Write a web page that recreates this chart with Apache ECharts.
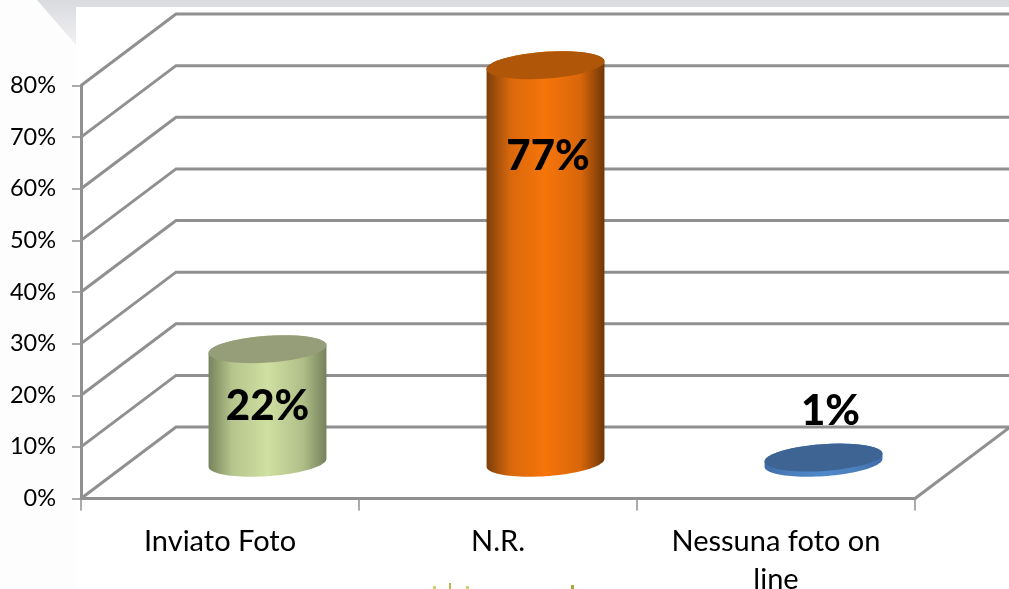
<!DOCTYPE html>
<html>
<head>
<meta charset="utf-8">
<style>
  html, body { margin: 0; padding: 0; background: #fff; }
  #chart { width: 1009px; height: 589px; }
</style>
<script src="https://cdn.jsdelivr.net/npm/echarts@6/dist/echarts.min.js"></script>
</head>
<body>
<div id="chart"></div>
<script>
var categories = ['Inviato Foto', 'N.R.', 'Nessuna foto on\nline'];
var percentages = [22, 77, 1];
var yTicks = [0, 10, 20, 30, 40, 50, 60, 70, 80];

// fake 3d look: how far the back wall sits from the front plane
var depthX = 95;
var depthY = 71.5;
var tilt = -4 * Math.PI / 180;
var capRy = 13.4;
var fontName = 'Lato, "Open Sans", sans-serif';
var gridColor = '#909090';

var looks = [
  { edgeL: '#77835c', midL: '#b5c58c', mid: '#d0e0a2', midR: '#b0bf88', edgeR: '#76815c', cap: '#959e79', dx: 0, dy: 57.2 },
  { edgeL: '#7d3f0a', midL: '#d9680c', mid: '#f6750a', midR: '#d8660a', edgeR: '#6f3606', cap: '#b05608', dx: 2.5, dy: 91.5 },
  { edgeL: '#3d6ba6', midL: '#4b7ebb', mid: '#5088c8', midR: '#4b7ebb', edgeR: '#3d6ba6', cap: '#3e6494', dx: 7, dy: -46.6 }
];

function ellipsePoints(cx, cy, rx, ry, from, to) {
  var pts = [];
  for (var i = 0; i <= 48; i++) {
    var t = from + (to - from) * i / 48;
    pts.push([
      cx + rx * Math.cos(t) * Math.cos(tilt) - ry * Math.sin(t) * Math.sin(tilt),
      cy + rx * Math.cos(t) * Math.sin(tilt) + ry * Math.sin(t) * Math.cos(tilt)
    ]);
  }
  return pts;
}

function renderWall(params, api) {
  var y = api.coord([0, api.value(1)])[1];
  var box = params.coordSys;
  var style = { stroke: gridColor, lineWidth: 3, fill: null };
  var kids = [{
    type: 'polyline',
    shape: { points: [[box.x, y], [box.x + depthX, y - depthY], [api.getWidth(), y - depthY]] },
    style: style
  }];
  if (api.value(1) === 0) {
    kids.push({
      type: 'line',
      shape: { x1: box.x + box.width, y1: y, x2: box.x + box.width + depthX, y2: y - depthY },
      style: style
    });
  }
  return { type: 'group', children: kids };
}

function renderCylinder(params, api) {
  var idx = api.value(0);
  var look = looks[idx];
  var top = api.coord([idx, api.value(1)]);
  var base = api.coord([idx, 0]);
  var rx = api.size([1, 0])[0] * 0.2125;
  var cx = base[0] + depthX / 2;
  var topY = top[1] - depthY / 2;
  var baseY = base[1] - depthY / 2;
  var t0 = Math.atan2(-capRy * Math.sin(tilt), rx * Math.cos(tilt));
  var body = ellipsePoints(cx, baseY, rx, capRy, t0, t0 + Math.PI)
    .concat(ellipsePoints(cx, topY, rx, capRy, t0 + Math.PI, t0 + 2 * Math.PI));
  return {
    type: 'group',
    children: [{
      type: 'polygon',
      shape: { points: body },
      style: {
        fill: new echarts.graphic.LinearGradient(0, 0, 1, 0, [
          { offset: 0, color: look.edgeL },
          { offset: 0.2, color: look.midL },
          { offset: 0.5, color: look.mid },
          { offset: 0.8, color: look.midR },
          { offset: 1, color: look.edgeR }
        ])
      }
    }, {
      type: 'polygon',
      shape: { points: ellipsePoints(cx, topY, rx, capRy, 0, 2 * Math.PI) },
      style: { fill: look.cap }
    }, {
      type: 'text',
      z2: 10,
      style: {
        text: api.value(1) + '%',
        x: cx + look.dx,
        y: topY + look.dy,
        align: 'center',
        verticalAlign: 'middle',
        font: '900 42px ' + fontName,
        fill: '#000'
      }
    }]
  };
}

var chart = echarts.init(document.getElementById('chart'));
chart.setOption({
  backgroundColor: '#fff',
  animation: false,
  graphic: [
    { type: 'rect', z: -10, shape: { x: 0, y: 0, width: 76, height: 589 }, style: { fill: '#fdfdfe' } },
    {
      type: 'polygon', z: -9,
      shape: { points: [[37, 0], [1009, 0], [1009, 7], [76, 7], [76, 45]] },
      style: {
        fill: new echarts.graphic.LinearGradient(0, 0, 0, 1, [
          { offset: 0, color: '#d9dadd' },
          { offset: 1, color: '#f1f1f4' }
        ])
      }
    },
    // scraps of the slide artwork under the chart
    { type: 'rect', z: -9, shape: { x: 449, y: 583, width: 2, height: 6 }, style: { fill: '#b9b94a' } },
    { type: 'rect', z: -9, shape: { x: 433, y: 586, width: 3, height: 3 }, style: { fill: '#cfcf70' } },
    { type: 'rect', z: -9, shape: { x: 466, y: 586, width: 3, height: 3 }, style: { fill: '#cfcf70' } },
    { type: 'rect', z: -9, shape: { x: 571, y: 585, width: 3, height: 4 }, style: { fill: '#a8a83a' } }
  ],
  grid: { left: 81, right: 94, top: 85.5, bottom: 90.5, outerBoundsMode: 'none' },
  xAxis: {
    type: 'category',
    data: categories,
    axisLine: { lineStyle: { color: gridColor, width: 3 } },
    axisTick: { show: true, length: 12, lineStyle: { color: gridColor, width: 1.5 } },
    axisLabel: {
      interval: 0,
      margin: 24,
      color: '#000',
      fontFamily: fontName,
      fontSize: 29,
      lineHeight: 38
    }
  },
  yAxis: {
    type: 'value',
    min: 0,
    max: 80,
    interval: 10,
    splitLine: { show: false },
    axisLine: { show: true, lineStyle: { color: gridColor, width: 3 } },
    axisTick: { show: true, length: 9, lineStyle: { color: gridColor, width: 1.5 } },
    axisLabel: {
      margin: 25,
      color: '#000',
      fontFamily: fontName,
      fontSize: 23.5,
      formatter: '{value}%'
    }
  },
  series: [{
    type: 'custom',
    name: 'walls',
    renderItem: renderWall,
    encode: { x: 0, y: 1 },
    silent: true,
    z: 1,
    data: yTicks.map(function (v) { return [0, v]; })
  }, {
    type: 'custom',
    name: 'percentuale',
    renderItem: renderCylinder,
    encode: { x: 0, y: 1 },
    clip: false,
    z: 3,
    data: percentages.map(function (v, i) { return [i, v]; })
  }]
});
</script>
</body>
</html>
